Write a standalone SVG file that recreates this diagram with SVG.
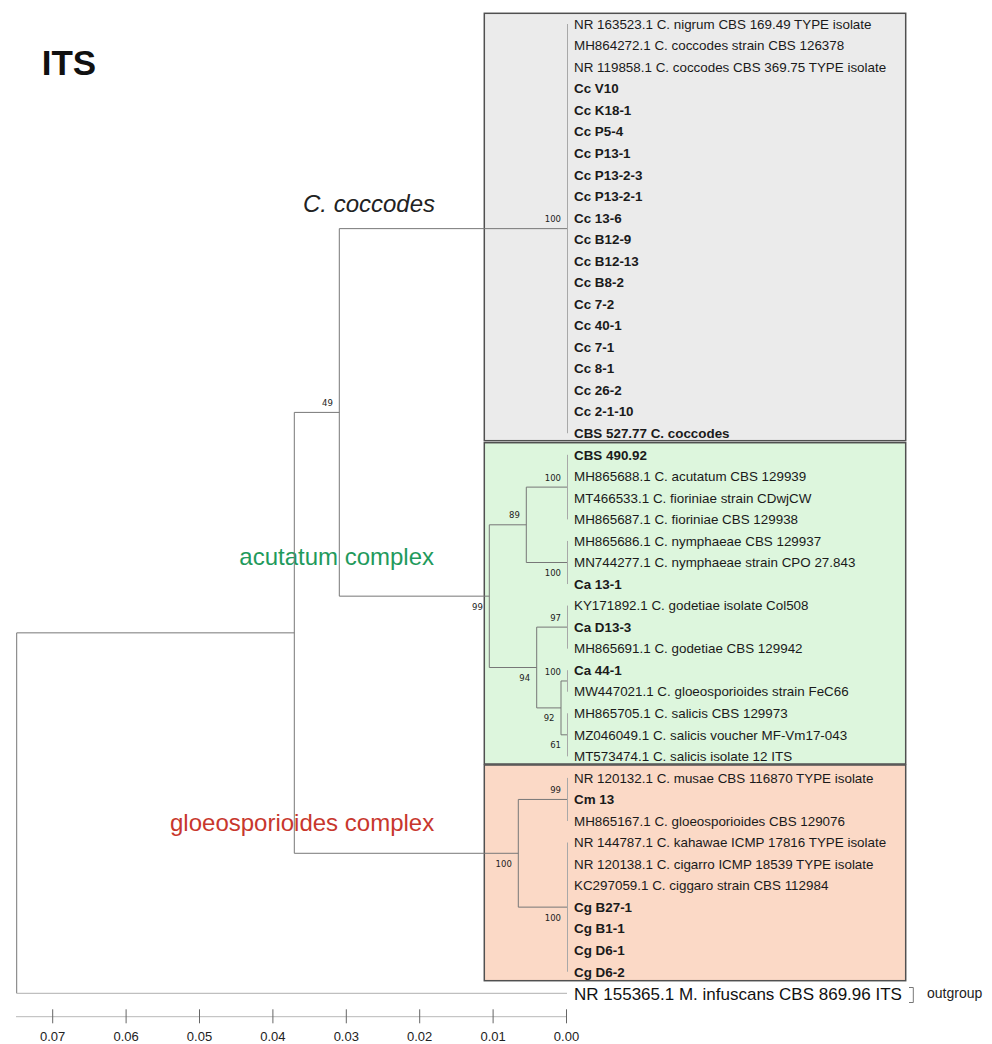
<svg xmlns="http://www.w3.org/2000/svg" width="992" height="1044" viewBox="0 0 992 1044">
<style>
.t{font-family:"Liberation Sans",Arial,sans-serif;font-size:13.4px;fill:#1a1a1a}
.b{font-weight:bold}
.bs{font-family:"DejaVu Sans",sans-serif;font-size:8.5px;fill:#222;text-anchor:end}
.br{fill:none;stroke:#777777;stroke-width:1}
.lf{fill:none;stroke:#a8a8a8;stroke-width:1}
.box{stroke:#505050;stroke-width:1.5}
.ax{font-family:"Liberation Sans",Arial,sans-serif;font-size:13px;fill:#222;text-anchor:middle}
.cl{font-family:"Liberation Sans",Arial,sans-serif;font-size:24px}
</style>
<rect width="992" height="1044" fill="#ffffff"/>
<text x="41.7" y="75" font-family="Liberation Sans, Arial, sans-serif" font-size="35" font-weight="bold" fill="#111">ITS</text>

<g id="boxes">
<rect id="box-coccodes" class="box" x="484.3" y="13.3" width="421.4" height="427.4" fill="#ebebeb"/>
<rect id="box-acutatum" class="box" x="484.3" y="442.7" width="421.4" height="321.3" fill="#ddf6dd"/>
<rect id="box-gloeo" class="box" x="484.3" y="765" width="421.4" height="215.7" fill="#fbd9c6"/>
</g>

<g id="clade-labels">
<text class="cl" x="303" y="212" font-style="italic" fill="#222">C. coccodes</text>
<text class="cl" x="239.3" y="565" fill="#1f9a5c">acutatum complex</text>
<text class="cl" x="170" y="831" fill="#c8372d">gloeosporioides complex</text>
</g>

<g id="connectors">
<path class="br" d="M16.7,632.85V993.3 M16.7,632.85H294.3 M294.3,412.4V853.29 M294.3,412.4H339.3 M339.3,228.63V596.16 M339.3,228.63H567.5 M339.3,596.16H489.3 M489.3,524.8V667.51 M489.3,524.8H526.3 M526.3,487.11V562.5 M526.3,487.11H567.5 M526.3,562.5H567.5 M489.3,667.51H536.7 M536.7,627.12V707.9 M536.7,627.12H567.5 M536.7,707.9H561 M561,680.97V734.82 M561,680.97H567.5 M561,734.82H567.5 M294.3,853.29H518.3 M518.3,799.44V907.14 M518.3,799.44H567.5 M518.3,907.14H567.5"/>
<path class="lf" d="M567.5,24V433.26 M567.5,454.8V519.42 M567.5,540.96V584.04 M567.5,605.58V648.66 M567.5,670.2V691.74 M567.5,713.28V756.36 M567.5,777.9V820.98 M567.5,842.52V971.76"/>
<path d="M16.7,993.3H567" fill="none" stroke="#b0b0b0" stroke-width="1"/>
</g>

<g id="bootstrap">
<text class="bs" x="561" y="222">100</text>
<text class="bs" x="332.8" y="405.9">49</text>
<text class="bs" x="482.8" y="609.7">99</text>
<text class="bs" x="519.8" y="518.3">89</text>
<text class="bs" x="561" y="480.6">100</text>
<text class="bs" x="561" y="576">100</text>
<text class="bs" x="530.2" y="681">94</text>
<text class="bs" x="561" y="620.6">97</text>
<text class="bs" x="554.5" y="721.4">92</text>
<text class="bs" x="561" y="674.5">100</text>
<text class="bs" x="561" y="748.3">61</text>
<text class="bs" x="511.8" y="866.8">100</text>
<text class="bs" x="561" y="792.9">99</text>
<text class="bs" x="561" y="920.6">100</text>
</g>

<g id="taxa-coccodes">
<text class="t" x="574" y="28.7">NR 163523.1 C. nigrum CBS 169.49 TYPE isolate</text>
<text class="t" x="574" y="50.2">MH864272.1 C. coccodes strain CBS 126378</text>
<text class="t" x="574" y="71.8">NR 119858.1 C. coccodes CBS 369.75 TYPE isolate</text>
<text class="t b" x="574" y="93.3">Cc V10</text>
<text class="t b" x="574" y="114.9">Cc K18-1</text>
<text class="t b" x="574" y="136.4">Cc P5-4</text>
<text class="t b" x="574" y="157.9">Cc P13-1</text>
<text class="t b" x="574" y="179.5">Cc P13-2-3</text>
<text class="t b" x="574" y="201">Cc P13-2-1</text>
<text class="t b" x="574" y="222.6">Cc 13-6</text>
<text class="t b" x="574" y="244.1">Cc B12-9</text>
<text class="t b" x="574" y="265.6">Cc B12-13</text>
<text class="t b" x="574" y="287.2">Cc B8-2</text>
<text class="t b" x="574" y="308.7">Cc 7-2</text>
<text class="t b" x="574" y="330.3">Cc 40-1</text>
<text class="t b" x="574" y="351.8">Cc 7-1</text>
<text class="t b" x="574" y="373.3">Cc 8-1</text>
<text class="t b" x="574" y="394.9">Cc 26-2</text>
<text class="t b" x="574" y="416.4">Cc 2-1-10</text>
<text class="t b" x="574" y="438">CBS 527.77 C. coccodes</text>
</g>

<g id="taxa-acutatum">
<text class="t b" x="574" y="459.5">CBS 490.92</text>
<text class="t" x="574" y="481">MH865688.1 C. acutatum CBS 129939</text>
<text class="t" x="574" y="502.6">MT466533.1 C. fioriniae strain CDwjCW</text>
<text class="t" x="574" y="524.1">MH865687.1 C. fioriniae CBS 129938</text>
<text class="t" x="574" y="545.7">MH865686.1 C. nymphaeae CBS 129937</text>
<text class="t" x="574" y="567.2">MN744277.1 C. nymphaeae strain CPO 27.843</text>
<text class="t b" x="574" y="588.7">Ca 13-1</text>
<text class="t" x="574" y="610.3">KY171892.1 C. godetiae isolate Col508</text>
<text class="t b" x="574" y="631.8">Ca D13-3</text>
<text class="t" x="574" y="653.4">MH865691.1 C. godetiae CBS 129942</text>
<text class="t b" x="574" y="674.9">Ca 44-1</text>
<text class="t" x="574" y="696.4">MW447021.1 C. gloeosporioides strain FeC66</text>
<text class="t" x="574" y="718">MH865705.1 C. salicis CBS 129973</text>
<text class="t" x="574" y="739.5">MZ046049.1 C. salicis voucher MF-Vm17-043</text>
<text class="t" x="574" y="761.1">MT573474.1 C. salicis isolate 12 ITS</text>
</g>

<g id="taxa-gloeosporioides">
<text class="t" x="574" y="782.6">NR 120132.1 C. musae CBS 116870 TYPE isolate</text>
<text class="t b" x="574" y="804.1">Cm 13</text>
<text class="t" x="574" y="825.7">MH865167.1 C. gloeosporioides CBS 129076</text>
<text class="t" x="574" y="847.2">NR 144787.1 C. kahawae ICMP 17816 TYPE isolate</text>
<text class="t" x="574" y="868.8">NR 120138.1 C. cigarro ICMP 18539 TYPE isolate</text>
<text class="t" x="574" y="890.3">KC297059.1 C. ciggaro strain CBS 112984</text>
<text class="t b" x="574" y="911.8">Cg B27-1</text>
<text class="t b" x="574" y="933.4">Cg B1-1</text>
<text class="t b" x="574" y="954.9">Cg D6-1</text>
<text class="t b" x="574" y="976.5">Cg D6-2</text>
</g>

<g id="outgroup">
<text x="574" y="999.5" font-family="Liberation Sans, Arial, sans-serif" font-size="17" fill="#111">NR 155365.1 M. infuscans CBS 869.96 ITS</text>
<path d="M909,987.5H913.3V1002.5H909" fill="none" stroke="#777" stroke-width="1"/>
<text x="927" y="998" font-family="Liberation Sans, Arial, sans-serif" font-size="14" fill="#222">outgroup</text>
</g>

<g id="scale-axis">
<path d="M16,1016.7H567" fill="none" stroke="#b8b8b8" stroke-width="1"/>
<path d="M52.7,1009.3V1023.3 M126.1,1009.3V1023.3 M199.5,1009.3V1023.3 M272.9,1009.3V1023.3 M346.3,1009.3V1023.3 M419.7,1009.3V1023.3 M493.1,1009.3V1023.3 M566.5,1009.3V1023.3" fill="none" stroke="#666" stroke-width="1"/>
<text class="ax" x="52.7" y="1040.7">0.07</text>
<text class="ax" x="126.1" y="1040.7">0.06</text>
<text class="ax" x="199.5" y="1040.7">0.05</text>
<text class="ax" x="272.9" y="1040.7">0.04</text>
<text class="ax" x="346.3" y="1040.7">0.03</text>
<text class="ax" x="419.7" y="1040.7">0.02</text>
<text class="ax" x="493.1" y="1040.7">0.01</text>
<text class="ax" x="566.5" y="1040.7">0.00</text>
</g>
</svg>
